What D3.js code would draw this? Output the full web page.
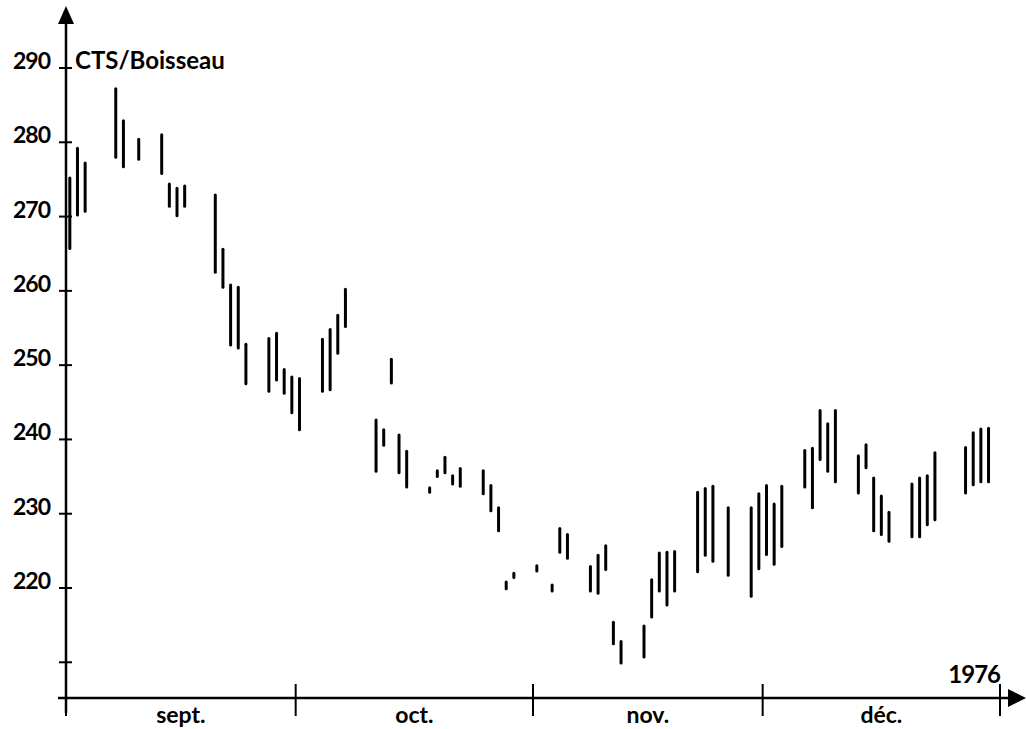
<!DOCTYPE html>
<html>
<head>
<meta charset="utf-8">
<script src="https://cdn.jsdelivr.net/npm/d3@7"></script>
<style>
  html, body { margin: 0; padding: 0; background: #fff; }
  svg text { font-family: Lato, "Open Sans", sans-serif; fill: #000; }
</style>
</head>
<body>
<div id="chart"></div>
<script>
// séances (1976) — plus haut / plus bas en cents par boisseau
const dates = [
  "09-01","09-02","09-03","09-07","09-08","09-10","09-13","09-14","09-15","09-16",
  "09-20","09-21","09-22","09-23","09-24","09-27","09-28","09-29","09-30",
  "10-01","10-04","10-05","10-06","10-07","10-11","10-12","10-13","10-14","10-15",
  "10-18","10-19","10-20","10-21","10-22","10-25","10-26","10-27","10-28","10-29",
  "11-01","11-03","11-04","11-05","11-08","11-09","11-10","11-11","11-12",
  "11-15","11-16","11-17","11-18","11-19","11-22","11-23","11-24","11-26",
  "11-29","11-30","12-01","12-02","12-03","12-06","12-07","12-08","12-09","12-10",
  "12-13","12-14","12-15","12-16","12-17","12-20","12-21","12-22","12-23",
  "12-27","12-28","12-29","12-30"
];
const highs = [
  275.2,279.2,277.2,287.2,282.9,280.4,281.0,274.4,273.8,274.1,
  272.9,265.6,260.8,260.5,252.8,253.6,254.3,249.4,248.4,
  248.2,253.5,254.8,256.7,260.2,242.6,241.3,250.8,240.6,238.4,
  233.5,235.8,237.6,235.1,236.1,235.8,233.8,230.8,220.8,222.0,
  223.0,220.4,228.0,227.2,222.9,224.4,225.7,215.4,212.8,
  214.9,221.1,224.7,224.8,224.9,232.9,233.4,233.7,230.8,
  230.8,232.7,233.8,231.3,233.7,238.5,238.8,243.9,242.1,243.9,
  237.8,239.3,234.8,232.4,230.2,234.0,234.8,235.1,238.2,
  238.9,240.9,241.4,241.5
];
const lows = [
  265.7,270.2,270.7,278.0,276.7,277.7,275.8,271.4,270.1,271.4,
  262.5,260.5,252.7,252.3,247.5,246.5,248.0,246.2,243.6,
  241.3,246.5,246.7,251.6,255.2,235.7,239.2,247.6,235.5,233.6,
  232.9,235.0,235.5,234.0,233.7,232.7,230.4,227.7,219.9,221.4,
  222.3,219.6,224.8,224.0,219.6,219.3,222.5,212.5,209.9,
  210.7,216.1,219.6,217.7,219.6,222.2,224.4,223.6,221.7,
  218.9,222.6,224.5,223.2,225.6,233.6,230.8,237.3,235.7,234.3,
  232.8,236.2,227.7,227.2,226.3,226.9,226.9,228.5,229.2,
  232.8,233.9,234.3,234.3
];
const tickValues = [210, 220, 230, 240, 250, 260, 270, 280, 290];
const labelValues = [220, 230, 240, 250, 260, 270, 280, 290];
const monthStarts = ["1976-09-01", "1976-10-01", "1976-11-01", "1976-12-01", "1977-01-01"];
const monthLabels = ["sept.", "oct.", "nov.", "déc."];

const width = 1026, height = 729;
const parse = d3.timeParse("%Y-%m-%d");

const svg = d3.select("#chart").append("svg")
  .attr("width", width)
  .attr("height", height);

const x = d3.scaleTime()
  .domain([parse("1976-09-01"), parse("1977-01-01")])
  .range([66, 1000]);

const y = d3.scaleLinear()
  .domain([220, 290])
  .range([588, 68]);

const x0 = 66, yBase = 698;

// axe vertical avec flèche
svg.append("line")
  .attr("x1", x0).attr("x2", x0)
  .attr("y1", 713).attr("y2", 20)
  .attr("stroke", "#000").attr("stroke-width", 2.5);
svg.append("path")
  .attr("d", `M${x0},6 L${x0 - 8},24 L${x0 + 8},24 Z`)
  .attr("fill", "#000");

// axe horizontal avec flèche
svg.append("line")
  .attr("x1", 58).attr("x2", 1012)
  .attr("y1", yBase).attr("y2", yBase)
  .attr("stroke", "#000").attr("stroke-width", 2.5);
svg.append("path")
  .attr("d", `M1026,${yBase} L1008,${yBase - 9} L1008,${yBase + 9} Z`)
  .attr("fill", "#000");

// graduations verticales
svg.append("g")
  .selectAll("line")
  .data(tickValues)
  .enter().append("line")
  .attr("x1", x0 - 7).attr("x2", x0 + 6)
  .attr("y1", d => y(d)).attr("y2", d => y(d))
  .attr("stroke", "#000").attr("stroke-width", 2);

svg.append("g")
  .selectAll("text")
  .data(labelValues)
  .enter().append("text")
  .attr("x", 50)
  .attr("y", d => y(d) + 1)
  .attr("text-anchor", "end")
  .attr("font-size", "23px")
  .attr("font-weight", "bold")
  .attr("letter-spacing", "-1px")
  .text(d => d);

svg.append("text")
  .attr("x", 75).attr("y", 69)
  .attr("font-size", "24px")
  .attr("font-weight", "bold")
  .text("CTS/Boisseau");

// graduations des mois
const months = monthStarts.map(parse);
svg.append("g")
  .selectAll("line")
  .data(months)
  .enter().append("line")
  .attr("x1", d => x(d)).attr("x2", d => x(d))
  .attr("y1", 684).attr("y2", 716)
  .attr("stroke", "#000").attr("stroke-width", 2);

svg.append("g")
  .selectAll("text")
  .data(monthLabels)
  .enter().append("text")
  .attr("x", (d, i) => (x(months[i]) + x(months[i + 1])) / 2)
  .attr("y", 723)
  .attr("text-anchor", "middle")
  .attr("font-size", "23px")
  .attr("font-weight", "bold")
  .text(d => d);

svg.append("text")
  .attr("x", 1000).attr("y", 683)
  .attr("text-anchor", "end")
  .attr("font-size", "24px")
  .attr("font-weight", "bold")
  .attr("letter-spacing", "-1px")
  .text("1976");

// barres plus haut / plus bas
const bars = dates.map((d, i) => ({
  date: d3.timeHour.offset(parse("1976-" + d), 12),
  high: highs[i],
  low: lows[i]
}));

svg.append("g")
  .selectAll("line")
  .data(bars)
  .enter().append("line")
  .attr("x1", d => x(d.date)).attr("x2", d => x(d.date))
  .attr("y1", d => y(d.high)).attr("y2", d => y(d.low))
  .attr("stroke", "#000")
  .attr("stroke-width", 3)
  .attr("stroke-linecap", "round");
</script>
</body>
</html>
